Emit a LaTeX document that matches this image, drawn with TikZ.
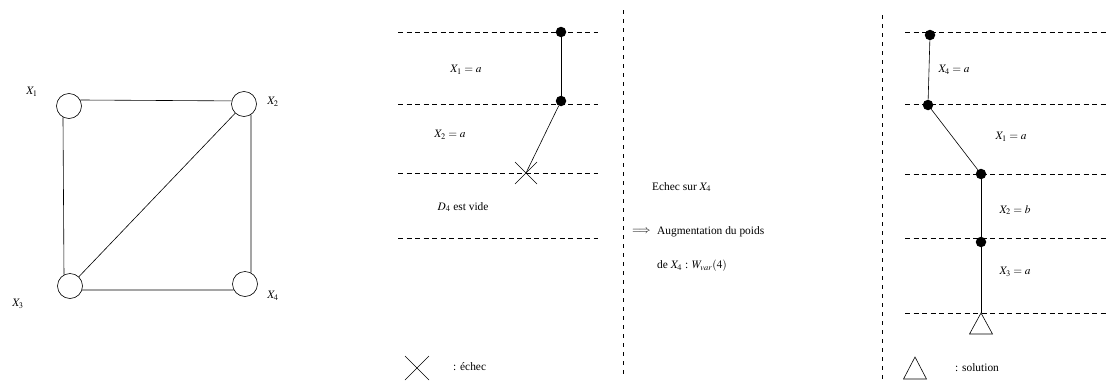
\documentclass[tikz,border=0pt]{standalone}
\usepackage{mathptmx}
\usepackage[no-math]{fontspec}
\setmainfont{Liberation Serif}
\usetikzlibrary{calc}
\begin{document}
\begin{tikzpicture}[x=1pt,y=-1pt,
  every node/.style={font=\fontsize{11.4}{13}\selectfont},
  vtx/.style={circle,draw,line width=0.6pt,minimum size=25pt,inner sep=0pt},
  dot/.style={circle,fill=black,minimum size=10.5pt,inner sep=0pt},
  edge/.style={line width=0.6pt},
  hdash/.style={line width=0.6pt,dash pattern=on 5pt off 3.5pt},
  vdash/.style={line width=0.7pt,dash pattern=on 4pt off 5pt},
  txt/.style={inner sep=0pt}]
\useasboundingbox (0,0) rectangle (1108,383);
% --- graph ---
\node[vtx] (x1) at (69,106) {};
\node[vtx] (x2) at (244,104) {};
\node[vtx] (x3) at (70,286) {};
\node[vtx] (x4) at (245,284) {};
\node[txt] (l1) at (32,92) {$X_1$};
\node[txt] (l2) at (273,102) {$X_2$};
\node[txt] (l3) at (18,304) {$X_3$};
\node[txt] (l4) at (273,296) {$X_4$};
\draw[edge] (x1.28) -- (x2.166);
\draw[edge] (x1.-118) -- (x3.118);
\draw[edge] (x2.-57) -- (x4.62);
\draw[edge] (x3.-18) -- (x4.-152);
\draw[edge] (x3) -- (x2);
% --- middle panel ---
\foreach \y/\n in {32/m1,104/m2,173/m3,238/m4}{
  \coordinate (\n a) at (398,\y); \coordinate (\n b) at (598,\y);
  \draw[hdash] (\n a) -- (\n b);}
\node[dot] (a1) at (561,32) {};
\node[dot] (a2) at (561,101) {};
\coordinate (c) at (526,173);
\draw[edge] (a1) -- (a2);
\draw[edge] (a2) -- (c);
\draw[edge] ($(c)+(-11,-11)$) -- ($(c)+(11,11)$);
\draw[edge] ($(c)+(-11,11)$) -- ($(c)+(11,-11)$);
\node[txt] (t1) at (466,70) {$X_1 = a$};
\node[txt] (t2) at (450,135) {$X_2 = a$};
\node[txt] (t3) at (463,207) {$D_4$ est vide};
% legend cross
\coordinate (lc) at (417,368);
\draw[edge] ($(lc)+(-12,-12)$) -- ($(lc)+(12,12)$);
\draw[edge] ($(lc)+(-12,12)$) -- ($(lc)+(12,-12)$);
\node[txt,anchor=west] (le) at (453,367) {: échec};
% separators
\coordinate (s1a) at (623,10); \coordinate (s1b) at (623,375);
\draw[vdash] (s1a) -- (s1b);
\coordinate (s2a) at (882,15); \coordinate (s2b) at (882,383);
\draw[vdash] (s2a) -- (s2b);
% middle text
\node[txt,anchor=west] (e1) at (652,187) {Echec sur $X_4$};
\node[txt,anchor=west] (e0) at (632,231) {$\Longrightarrow$};
\node[txt,anchor=west] (e2) at (657,232) {Augmentation du poids};
\node[txt,anchor=west] (e3) at (657,266) {de $X_4$ : $W_{var}(4)$};
% --- right panel ---
\foreach \y/\n in {32/r1,104/r2,174/r3,238/r4,313/r5}{
  \coordinate (\n a) at (905,\y); \coordinate (\n b) at (1108,\y);
  \draw[hdash] (\n a) -- (\n b);}
\node[dot] (b1) at (930,35) {};
\node[dot] (b2) at (928,105) {};
\node[dot] (b3) at (981,174) {};
\node[dot] (b4) at (981,242) {};
\coordinate (b5) at (981,313);
\draw[edge] (b1) -- (b2);
\draw[edge] (b2) -- (b3);
\draw[edge] (b3) -- (b4);
\draw[edge] (b4) -- (b5);
\draw[edge] (b5) -- ++(-11.5,21) -- ++(23,0) -- cycle;
\node[txt] (u1) at (954,70) {$X_4 = a$};
\node[txt] (u2) at (1011,137) {$X_1 = a$};
\node[txt] (u3) at (1015,210) {$X_2 = b$};
\node[txt] (u4) at (1015,272) {$X_3 = a$};
% legend triangle
\coordinate (lt) at (915,357);
\draw[edge] (lt) -- ++(-11.5,22) -- ++(23,0) -- cycle;
\node[txt,anchor=west] (ls) at (955,368) {: solution};
\end{tikzpicture}
\end{document}
